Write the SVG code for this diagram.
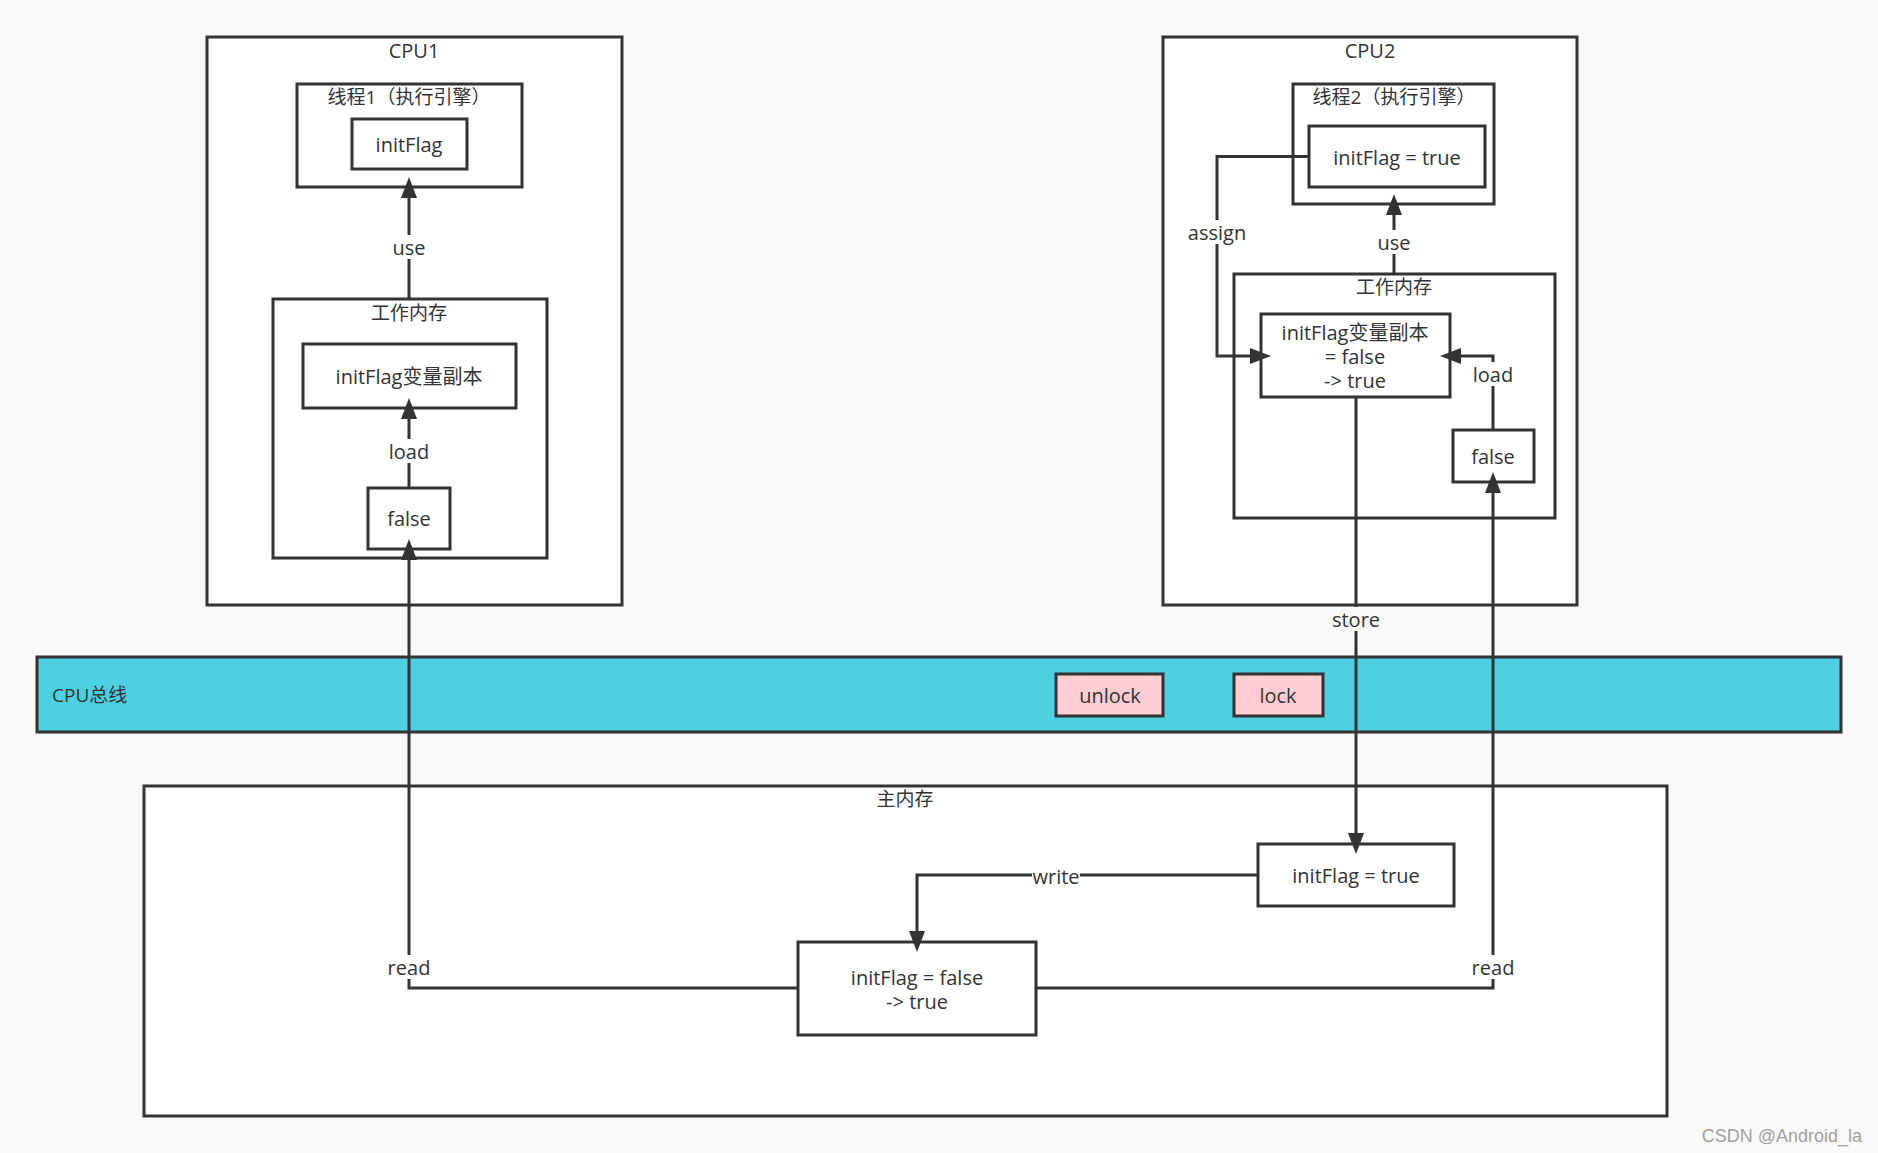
<svg xmlns="http://www.w3.org/2000/svg" width="1878" height="1153" viewBox="0 0 1878 1153">
<style>
.box{fill:#ffffff;stroke:#333333;stroke-width:3}
.bus{fill:#4dd0e1;stroke:#333333;stroke-width:3}
.pink{fill:#ffcdd2;stroke:#333333;stroke-width:3}
.t{font-family:"Open Sans","Noto Sans CJK SC",sans-serif;font-size:20px;fill:#333333;text-anchor:middle;dominant-baseline:central}
.h{font-size:19px}
.tl{text-anchor:start}
.c{fill:none;stroke:#333333;stroke-width:3}
.lbg{fill:#ffffff}
.wm{font-family:"Liberation Sans",Arial,sans-serif;font-size:18px;fill:#a0a0a0;text-anchor:end}
</style>
<defs>
<marker id="arr" markerUnits="userSpaceOnUse" markerWidth="21" markerHeight="16" viewBox="0 0 21 16" refX="11" refY="8" orient="auto">
<path d="M0,0 L21,8 L0,16 z" fill="#333333"/>
</marker>
</defs>
<rect x="0" y="0" width="1878" height="1153" fill="#f9f9f9"/>

<g id="cpu1">
<rect class="box" x="207" y="37" width="415" height="568"/>
<text class="t" x="414" y="50">CPU1</text>
</g>
<g id="thread1">
<rect class="box" x="297" y="84" width="225" height="103"/>
<text class="t h" x="409" y="97">线程1（执行引擎）</text>
</g>
<g id="t1-initflag">
<rect class="box" x="352" y="119" width="115" height="50"/>
<text class="t" x="409" y="144">initFlag</text>
</g>
<g id="wm1">
<rect class="box" x="273" y="299" width="274" height="259"/>
<text class="t h" x="409" y="313">工作内存</text>
</g>
<g id="wm1-copy">
<rect class="box" x="303" y="344" width="213" height="64"/>
<text class="t" x="409" y="376">initFlag变量副本</text>
</g>
<g id="wm1-false">
<rect class="box" x="368" y="488" width="82" height="61"/>
<text class="t" x="409" y="518">false</text>
</g>

<g id="cpu2">
<rect class="box" x="1163" y="37" width="414" height="568"/>
<text class="t" x="1370" y="50">CPU2</text>
</g>
<g id="thread2">
<rect class="box" x="1293" y="84" width="201" height="120"/>
<text class="t h" x="1394" y="97">线程2（执行引擎）</text>
</g>
<g id="t2-initflag">
<rect class="box" x="1309" y="126" width="176" height="61"/>
<text class="t" x="1397" y="157">initFlag = true</text>
</g>
<g id="wm2">
<rect class="box" x="1234" y="274" width="321" height="244"/>
<text class="t h" x="1394" y="287">工作内存</text>
</g>
<g id="wm2-copy">
<rect class="box" x="1261" y="314" width="189" height="83"/>
<text class="t" x="1355" y="332">initFlag变量副本</text>
<text class="t" x="1355" y="356">= false</text>
<text class="t" x="1355" y="380">-&gt; true</text>
</g>
<g id="wm2-false">
<rect class="box" x="1453" y="430" width="81" height="52"/>
<text class="t" x="1493" y="456">false</text>
</g>

<g id="bus">
<rect class="bus" x="37" y="657" width="1804" height="75"/>
<text class="t tl h" x="52" y="695">CPU总线</text>
</g>
<g id="unlock">
<rect class="pink" x="1056" y="674" width="107" height="42"/>
<text class="t" x="1110" y="695">unlock</text>
</g>
<g id="lock">
<rect class="pink" x="1234" y="674" width="89" height="42"/>
<text class="t" x="1278" y="695">lock</text>
</g>

<g id="main-memory">
<rect class="box" x="144" y="786" width="1523" height="330"/>
<text class="t h" x="905" y="799">主内存</text>
</g>
<g id="mm-true">
<rect class="box" x="1258" y="844" width="196" height="62"/>
<text class="t" x="1356" y="875">initFlag = true</text>
</g>
<g id="mm-false">
<rect class="box" x="798" y="942" width="238" height="93"/>
<text class="t" x="917" y="977">initFlag = false</text>
<text class="t" x="917" y="1001">-&gt; true</text>
</g>

<g id="connectors">
<path class="c" d="M409,299 V187" marker-end="url(#arr)"/>
<rect class="lbg" x="390" y="235" width="38" height="24"/>
<text class="t" x="409" y="247">use</text>

<path class="c" d="M409,488 V408" marker-end="url(#arr)"/>
<rect class="lbg" x="386" y="439" width="46" height="24"/>
<text class="t" x="409" y="451">load</text>

<path class="c" d="M798,988 H409 V549" marker-end="url(#arr)"/>
<rect class="lbg" x="386" y="955" width="46" height="24"/>
<text class="t" x="409" y="967">read</text>

<path class="c" d="M1309,156.5 H1217 V356 H1261" marker-end="url(#arr)"/>
<rect class="lbg" x="1185" y="220" width="64" height="24"/>
<text class="t" x="1217" y="232">assign</text>

<path class="c" d="M1394,274 V204" marker-end="url(#arr)"/>
<rect class="lbg" x="1375" y="230" width="38" height="24"/>
<text class="t" x="1394" y="242">use</text>

<path class="c" d="M1493,430 V356 H1450" marker-end="url(#arr)"/>
<rect class="lbg" x="1470" y="362" width="46" height="24"/>
<text class="t" x="1493" y="374">load</text>

<path class="c" d="M1356,397 V844" marker-end="url(#arr)"/>
<rect x="1329" y="607" width="54" height="24" fill="#f9f9f9"/>
<text class="t" x="1356" y="619">store</text>

<path class="c" d="M1036,988 H1493 V482" marker-end="url(#arr)"/>
<rect class="lbg" x="1470" y="955" width="46" height="24"/>
<text class="t" x="1493" y="967">read</text>

<path class="c" d="M1258,875 H917 V942" marker-end="url(#arr)"/>
<rect class="lbg" x="1032" y="864" width="48" height="24"/>
<text class="t" x="1056" y="876">write</text>
</g>

<text class="wm" x="1862" y="1142">CSDN @Android_la</text>
</svg>
